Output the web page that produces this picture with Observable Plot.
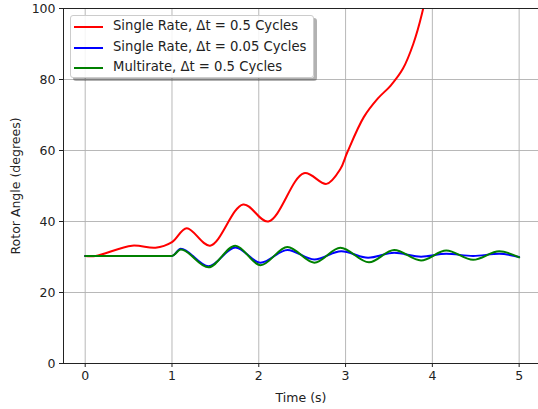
<!DOCTYPE html>
<html>
<head>
<meta charset="utf-8">
<script src="https://cdn.jsdelivr.net/npm/d3@7"></script>
<script src="https://cdn.jsdelivr.net/npm/@observablehq/plot@0.6"></script>
<style>
  body { margin: 0; background: #fff; }
  #wrap { position: relative; width: 538px; height: 409px; font-family: "DejaVu Sans", sans-serif; }
  #legend {
    position: absolute; left: 70px; top: 15px; width: 244px; height: 63px;
    background: rgba(255,255,255,0.85); border: 1px solid #cccccc; border-radius: 3px;
    box-shadow: 3px 3px 0 rgba(0,0,0,0.3); box-sizing: border-box;
    font-size: 13.2px; color: #222;
  }
  .item { position: absolute; left: 0; height: 20px; white-space: nowrap; }
  .sw { position: absolute; left: 3px; width: 29px; height: 2px; top: 9px; }
  .lab { position: absolute; left: 42px; top: 1px; }
</style>
</head>
<body>
<div id="wrap">
  <div id="chart"></div>
  <div id="legend"></div>
</div>
<script>
// Series names and colours
const seriesNames = ["Single Rate, Δt = 0.5 Cycles", "Single Rate, Δt = 0.05 Cycles", "Multirate, Δt = 0.5 Cycles"];
const seriesColors = ["red", "blue", "green"];

// Single Rate, Δt = 0.5 Cycles
const redT = [0, 0.12, 0.54, 0.81, 1.0, 1.17, 1.44, 1.82, 2.11, 2.52, 2.78, 2.94, 3.02, 3.21, 3.37, 3.52, 3.66, 3.78, 3.88, 3.95];
const redV = [30.3, 30.3, 33.2, 32.6, 34.2, 38.1, 33.2, 44.8, 40.0, 53.6, 50.6, 54.8, 59.5, 69.4, 74.6, 78.3, 83.0, 90.0, 98.5, 107];

// Single Rate, Δt = 0.05 Cycles
const blueT = [0, 1.0, 1.10, 1.42, 1.73, 2.02, 2.33, 2.64, 2.95, 3.26, 3.56, 3.87, 4.16, 4.47, 4.77, 5.0];
const blueV = [30.3, 30.3, 32.3, 27.4, 32.7, 28.4, 32.0, 29.3, 31.6, 29.8, 31.2, 30.1, 30.9, 30.3, 30.9, 30.0];

// Multirate, Δt = 0.5 Cycles
const greenT = [0, 1.0, 1.10, 1.42, 1.73, 2.02, 2.33, 2.64, 2.94, 3.27, 3.56, 3.87, 4.16, 4.47, 4.77, 5.0];
const greenV = [30.3, 30.3, 32.1, 27.1, 33.2, 27.7, 32.8, 28.4, 32.6, 28.5, 32.0, 29.0, 31.8, 29.2, 31.6, 29.9];

// Axes
const xTicks = [0, 1, 2, 3, 4, 5];
const yTicks = [0, 20, 40, 60, 80, 100];
const xDomain = [-0.25, 5.223];
const yDomain = [0, 100];

const toRows = (T, V) => T.map((t, i) => ({t, v: V[i]}));
const red = toRows(redT, redV);
const blue = toRows(blueT, blueV);
const green = toRows(greenT, greenV);

const chart = Plot.plot({
  width: 538,
  height: 409,
  marginLeft: 63,
  marginRight: 0,
  marginTop: 8,
  marginBottom: 46,
  style: {fontFamily: "DejaVu Sans, sans-serif", fontSize: "12.5px", color: "#222", background: "white", overflow: "visible"},
  x: {domain: xDomain},
  y: {domain: yDomain},
  marks: [
    Plot.ruleX(xTicks, {stroke: "#b0b0b0", strokeWidth: 0.9}),
    Plot.ruleY(yTicks, {stroke: "#b0b0b0", strokeWidth: 0.9}),
    Plot.line(red, {x: "t", y: "v", stroke: seriesColors[0], strokeWidth: 2, curve: "catmull-rom", clip: true}),
    Plot.line(blue, {x: "t", y: "v", stroke: seriesColors[1], strokeWidth: 2, curve: "monotone-x", clip: true}),
    Plot.line(green, {x: "t", y: "v", stroke: seriesColors[2], strokeWidth: 2, curve: "monotone-x", clip: true}),
    Plot.ruleX([xDomain[0]], {stroke: "#222", strokeWidth: 1}),
    Plot.ruleY([yDomain[0]], {stroke: "#222", strokeWidth: 1}),
    Plot.ruleY([yDomain[1]], {stroke: "#222", strokeWidth: 1}),
    Plot.axisX({ticks: xTicks, tickSize: 4, tickPadding: 4, tickFormat: d => String(d), label: "Time (s)", labelAnchor: "center", labelArrow: "none", labelOffset: 38}),
    Plot.axisY({ticks: yTicks, tickSize: 4, tickPadding: 4, tickFormat: d => String(d), label: "Rotor Angle (degrees)", labelAnchor: "center", labelArrow: "none", labelOffset: 52})
  ]
});
document.getElementById("chart").appendChild(chart);

// Legend
const legend = document.getElementById("legend");
seriesNames.forEach((name, i) => {
  const item = document.createElement("div");
  item.className = "item";
  item.style.top = (1 + i * 20.5) + "px";
  const sw = document.createElement("div");
  sw.className = "sw";
  sw.style.background = seriesColors[i];
  const lab = document.createElement("div");
  lab.className = "lab";
  lab.textContent = name;
  item.appendChild(sw);
  item.appendChild(lab);
  legend.appendChild(item);
});
</script>
</body>
</html>
